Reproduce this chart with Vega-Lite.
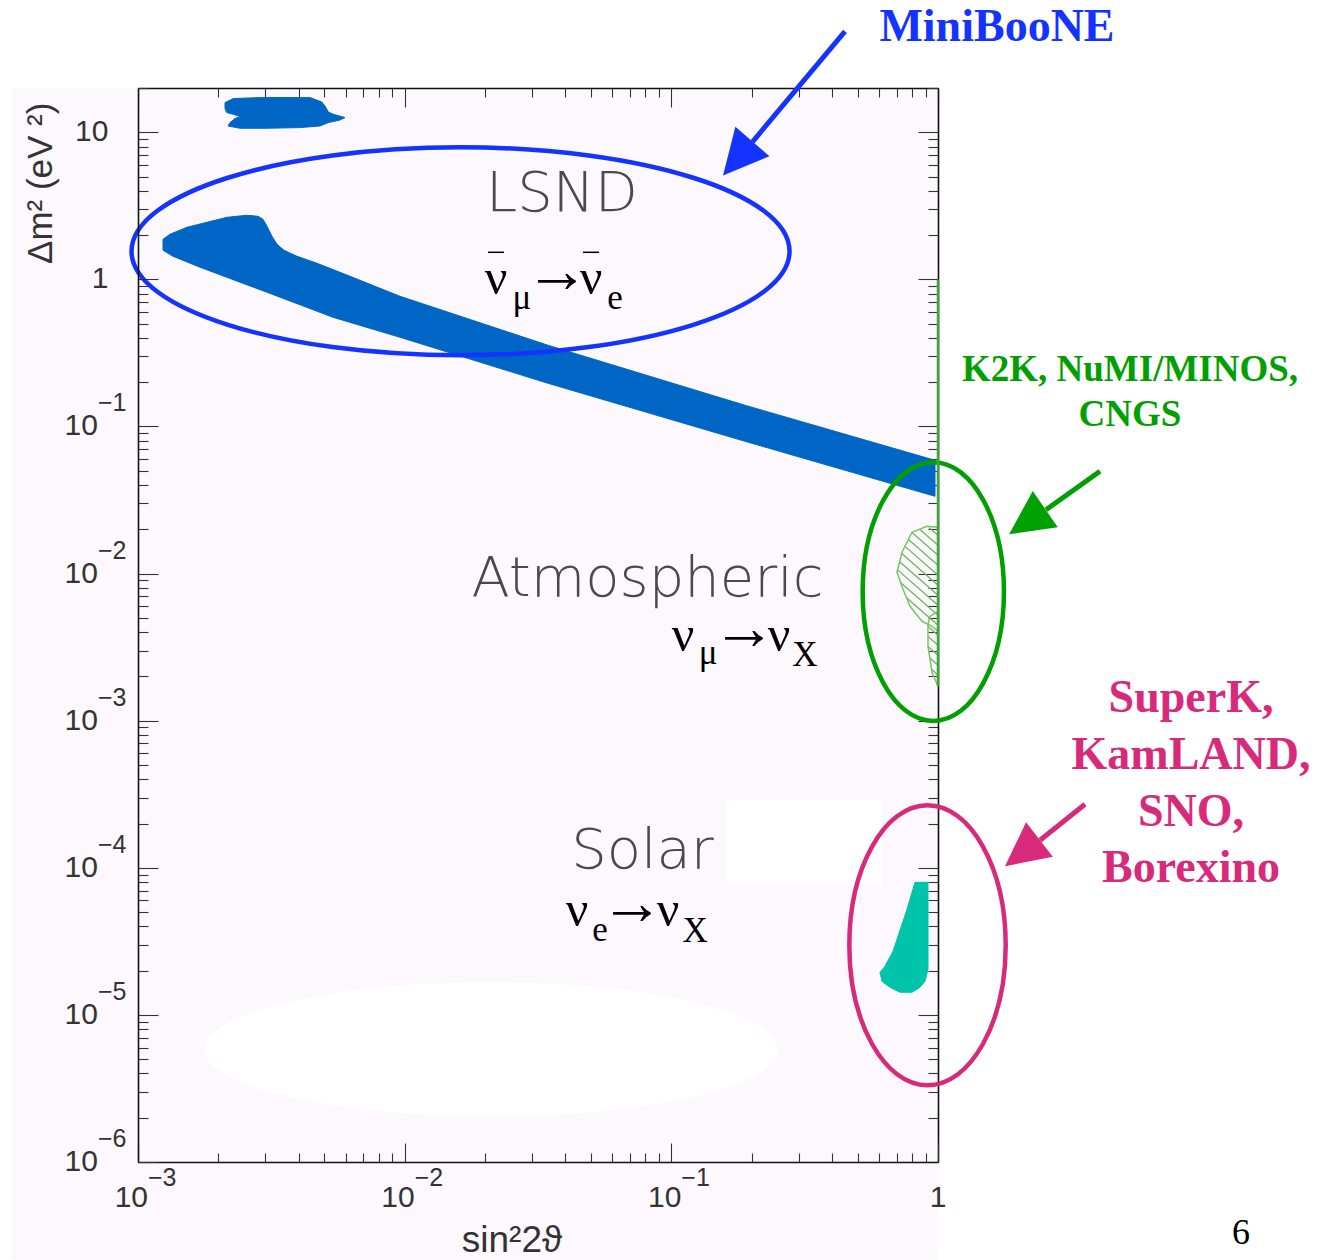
{
  "$schema": "https://vega.github.io/schema/vega-lite/v6.json",
  "width": 800,
  "height": 1074,
  "autosize": "none",
  "padding": {"left": 138, "top": 88, "right": 394, "bottom": 98},
  "background": "#ffffff",
  "config": {"view": {"fill": "#fdf8fd", "stroke": null}},
  "datasets": {
    "margins": [
      {"x": 3.369e-4, "x2": 0.001, "y": 2.181e-7, "y2": 20},
      {"x": 0.001, "x2": 1, "y": 2.181e-7, "y2": 1e-6}
    ],
    "whiteRect": [{"x": 0.1617, "x2": 0.6166, "y": 7.724e-5, "y2": 2.922e-4}],
    "whiteBlob": [{"x": 0.02107, "y": 5.836e-6}],
    "miniboone": [
      {"x": 2.120e-3, "y": 15.92}, {"x": 2.277e-3, "y": 16.95}, {"x": 2.867e-3, "y": 17.21},
      {"x": 4.416e-3, "y": 17.21}, {"x": 4.885e-3, "y": 16.07}, {"x": 5.026e-3, "y": 15.09},
      {"x": 5.172e-3, "y": 13.74}, {"x": 5.400e-3, "y": 13.25}, {"x": 5.974e-3, "y": 12.59},
      {"x": 5.721e-3, "y": 12.12}, {"x": 5.172e-3, "y": 11.64}, {"x": 4.814e-3, "y": 11.04},
      {"x": 4.050e-3, "y": 10.76}, {"x": 3.038e-3, "y": 10.65}, {"x": 2.413e-3, "y": 10.65},
      {"x": 2.175e-3, "y": 11.04}, {"x": 2.213e-3, "y": 11.64}, {"x": 2.311e-3, "y": 12.39},
      {"x": 2.413e-3, "y": 12.79}, {"x": 2.277e-3, "y": 13.25}, {"x": 2.151e-3, "y": 13.61},
      {"x": 2.120e-3, "y": 14.49}
    ],
    "lsnd": [
      {"x": 1.241e-3, "y": 1.873}, {"x": 1.318e-3, "y": 2.026}, {"x": 1.527e-3, "y": 2.260},
      {"x": 1.814e-3, "y": 2.444}, {"x": 2.157e-3, "y": 2.643}, {"x": 2.563e-3, "y": 2.728},
      {"x": 2.818e-3, "y": 2.685}, {"x": 2.943e-3, "y": 2.562}, {"x": 3.046e-3, "y": 2.296},
      {"x": 3.181e-3, "y": 1.963}, {"x": 3.321e-3, "y": 1.732}, {"x": 3.528e-3, "y": 1.577},
      {"x": 3.947e-3, "y": 1.436}, {"x": 4.691e-3, "y": 1.287}, {"x": 6.237e-3, "y": 1.050},
      {"x": 9.605e-3, "y": 0.7676}, {"x": 0.03448, "y": 0.3565}, {"x": 0.1889, "y": 0.1394},
      {"x": 0.9744, "y": 0.05891}, {"x": 0.9744, "y": 0.03353}, {"x": 0.1889, "y": 0.07932},
      {"x": 0.03448, "y": 0.1966}, {"x": 9.605e-3, "y": 0.4040}, {"x": 5.386e-3, "y": 0.5525},
      {"x": 3.046e-3, "y": 0.8172}, {"x": 1.708e-3, "y": 1.209}, {"x": 1.353e-3, "y": 1.436},
      {"x": 1.241e-3, "y": 1.577}
    ],
    "solar": [
      {"x": 0.8199, "y": 7.969e-5}, {"x": 0.9173, "y": 7.969e-5}, {"x": 0.9173, "y": 2.042e-5},
      {"x": 0.8938, "y": 1.692e-5}, {"x": 0.8560, "y": 1.541e-5}, {"x": 0.7989, "y": 1.425e-5},
      {"x": 0.7203, "y": 1.425e-5}, {"x": 0.6607, "y": 1.541e-5}, {"x": 0.6166, "y": 1.692e-5},
      {"x": 0.6061, "y": 1.948e-5}, {"x": 0.6328, "y": 2.140e-5}, {"x": 0.6780, "y": 2.706e-5},
      {"x": 0.7079, "y": 3.422e-5}, {"x": 0.7652, "y": 5.223e-5}
    ],
    "atmMain": [
      {"x": 0.9094, "y": 0.02097}, {"x": 1.0, "y": 0.02064}, {"x": 1.0, "y": 4.053e-3},
      {"x": 0.9495, "y": 4.383e-3}, {"x": 0.8710, "y": 4.740e-3}, {"x": 0.7853, "y": 5.994e-3},
      {"x": 0.7392, "y": 7.821e-3}, {"x": 0.7019, "y": 0.01021}, {"x": 0.7328, "y": 0.01396},
      {"x": 0.7989, "y": 0.01909}
    ],
    "atmLobe": [
      {"x": 0.9333, "y": 5.125e-3}, {"x": 1.0, "y": 5.543e-3}, {"x": 1.0, "y": 1.713e-3},
      {"x": 0.9495, "y": 2.133e-3}, {"x": 0.9173, "y": 3.205e-3}, {"x": 0.9173, "y": 4.522e-3}
    ],
    "hatch": [
      {"x": 0.9252, "y": 0.02061, "x2": 1.0, "y2": 0.01821},
      {"x": 0.8531, "y": 0.02004, "x2": 1.0, "y2": 0.01557},
      {"x": 0.7982, "y": 0.01903, "x2": 1.0, "y2": 0.01332},
      {"x": 0.7745, "y": 0.01708, "x2": 1.0, "y2": 0.01139},
      {"x": 0.7521, "y": 0.01531, "x2": 1.0, "y2": 9.737e-3},
      {"x": 0.7309, "y": 0.01370, "x2": 1.0, "y2": 8.327e-3},
      {"x": 0.7178, "y": 0.01205, "x2": 1.0, "y2": 7.120e-3},
      {"x": 0.7055, "y": 0.01060, "x2": 1.0, "y2": 6.088e-3},
      {"x": 0.7253, "y": 8.672e-3, "x2": 1.0, "y2": 5.206e-3},
      {"x": 0.7619, "y": 6.858e-3, "x2": 1.0, "y2": 4.452e-3},
      {"x": 0.9173, "y": 4.362e-3, "x2": 1.0, "y2": 3.807e-3},
      {"x": 0.9173, "y": 3.730e-3, "x2": 1.0, "y2": 3.255e-3},
      {"x": 0.9173, "y": 3.190e-3, "x2": 1.0, "y2": 2.784e-3},
      {"x": 0.9317, "y": 2.664e-3, "x2": 1.0, "y2": 2.380e-3},
      {"x": 0.9454, "y": 2.243e-3, "x2": 1.0, "y2": 2.035e-3}
    ],
    "k2kEdge": [{"x": 1, "y": 1.713e-3, "y2": 1}],
    "lsndRing": [{"x": 0.0162, "y": 1.553}],
    "k2kRing": [{"x": 0.9603, "y": 7.545e-3}],
    "solarRing": [{"x": 0.9133, "y": 2.973e-5}],
    "blueShaft": [{"x": 0.4480, "y": 48.60, "x2": 0.2016, "y2": 8.618}],
    "greenShaft": [{"x": 4.050, "y": 0.04960, "x2": 2.541, "y2": 0.02715}],
    "pinkShaft": [{"x": 3.558, "y": 2.702e-4, "x2": 2.413, "y2": 1.538e-4}],
    "blueHead": [{"x": 0.1774, "y": 6.631}],
    "greenHead": [{"x": 2.160, "y": 0.02253}],
    "pinkHead": [{"x": 2.069, "y": 1.263e-4}],
    "regionLabels": [
      {"x": 0.03890, "y": 2.904, "t": "LSND"},
      {"x": 0.08140, "y": 7.009e-3, "t": "Atmospheric"},
      {"x": 0.07796, "y": 9.922e-5, "t": "Solar"}
    ],
    "formulaNu": [
      {"x": 0.02200, "y": 0.7920, "t": "ν"}, {"x": 0.04998, "y": 0.7920, "t": "ν"},
      {"x": 0.1106, "y": 2.963e-3, "t": "ν"}, {"x": 0.2534, "y": 2.963e-3, "t": "ν"},
      {"x": 0.04429, "y": 4.002e-5, "t": "ν"}, {"x": 0.09716, "y": 4.002e-5, "t": "ν"}
    ],
    "formulaArrow": [
      {"x": 0.03726, "y": 0.7920, "t": "→"},
      {"x": 0.1873, "y": 2.963e-3, "t": "→"},
      {"x": 0.07121, "y": 4.002e-5, "t": "→"}
    ],
    "formulaSub": [
      {"x": 0.02754, "y": 0.6262, "t": "μ"}, {"x": 0.06148, "y": 0.6262, "t": "e"},
      {"x": 0.1373, "y": 2.418e-3, "t": "μ"}, {"x": 0.3171, "y": 2.343e-3, "t": "X"},
      {"x": 0.05401, "y": 3.165e-5, "t": "e"}, {"x": 0.1227, "y": 3.116e-5, "t": "X"}
    ],
    "antiBars": [
      {"x": 0.02054, "x2": 0.02358, "y": 1.528},
      {"x": 0.04664, "x2": 0.05355, "y": 1.528}
    ],
    "minibooneText": [{"x": 1.664, "y": 41.56, "t": "MiniBooNE"}],
    "k2kText": [
      {"x": 5.248, "y": 0.2029, "t": "K2K, NuMI/MINOS,"},
      {"x": 5.248, "y": 0.1003, "t": "CNGS"}
    ],
    "solarText": [
      {"x": 8.887, "y": 1.141e-3, "t": "SuperK,"},
      {"x": 8.887, "y": 4.673e-4, "t": "KamLAND,"},
      {"x": 8.887, "y": 1.915e-4, "t": "SNO,"},
      {"x": 8.887, "y": 7.969e-5, "t": "Borexino"}
    ],
    "pageNumber": [{"x": 13.69, "y": 2.758e-7, "t": "6"}],
    "yPlain": [{"x": 7.75e-4, "y": 10, "t": "10"}, {"x": 7.75e-4, "y": 1, "t": "1"}],
    "yBase": [
      {"x": 7.079e-4, "y": 0.1, "t": "10"}, {"x": 7.079e-4, "y": 0.01, "t": "10"},
      {"x": 7.079e-4, "y": 0.001, "t": "10"}, {"x": 7.079e-4, "y": 1e-4, "t": "10"},
      {"x": 7.079e-4, "y": 1e-5, "t": "10"}, {"x": 7.079e-4, "y": 1e-6, "t": "10"}
    ],
    "yExp": [
      {"x": 7.079e-4, "y": 0.1, "t": "−1"}, {"x": 7.079e-4, "y": 0.01, "t": "−2"},
      {"x": 7.079e-4, "y": 0.001, "t": "−3"}, {"x": 7.079e-4, "y": 1e-4, "t": "−4"},
      {"x": 7.079e-4, "y": 1e-5, "t": "−5"}, {"x": 7.079e-4, "y": 1e-6, "t": "−6"}
    ],
    "xBase": [
      {"x": 0.001, "y": 4.921e-7, "t": "10"},
      {"x": 0.01, "y": 4.921e-7, "t": "10"},
      {"x": 0.1, "y": 4.921e-7, "t": "10"}
    ],
    "xExp": [
      {"x": 0.001, "y": 6.836e-7, "t": "−3"},
      {"x": 0.01, "y": 6.836e-7, "t": "−2"},
      {"x": 0.1, "y": 6.836e-7, "t": "−1"}
    ],
    "xPlain": [{"x": 1, "y": 4.921e-7, "t": "1"}],
    "xTitle": [{"x": 0.02526, "y": 2.433e-7, "t": "sin²2ϑ"}],
    "yTitle": [{"x": 4.759e-4, "y": 4.501, "t": "Δm² (eV ²)"}]
  },
  "layer": [
    {
      "encoding": {
        "x": {
          "field": "x", "type": "quantitative",
          "scale": {"type": "log", "domain": [0.001, 1], "nice": false},
          "axis": {
            "orient": "bottom", "labels": false, "title": null, "grid": false, "zindex": 1,
            "values": [0.001, 0.002, 0.003, 0.004, 0.005, 0.006, 0.007, 0.008, 0.009, 0.01, 0.02, 0.03, 0.04, 0.05, 0.06, 0.07, 0.08, 0.09, 0.1, 0.2, 0.3, 0.4, 0.5, 0.6, 0.7, 0.8, 0.9, 1],
            "domainColor": "#111111", "domainWidth": 1.6, "tickColor": "#333333", "tickWidth": 1.1,
            "tickSize": {"condition": {"test": "abs(log(datum.value)/LN10 - round(log(datum.value)/LN10)) < 0.01", "value": -19}, "value": -9}
          }
        },
        "y": {
          "field": "y", "type": "quantitative",
          "scale": {"type": "log", "domain": [1e-6, 20], "nice": false},
          "axis": {
            "orient": "left", "labels": false, "title": null, "grid": false, "zindex": 1,
            "values": [1e-6, 2e-6, 3e-6, 4e-6, 5e-6, 6e-6, 7e-6, 8e-6, 9e-6, 1e-5, 2e-5, 3e-5, 4e-5, 5e-5, 6e-5, 7e-5, 8e-5, 9e-5, 1e-4, 2e-4, 3e-4, 4e-4, 5e-4, 6e-4, 7e-4, 8e-4, 9e-4, 0.001, 0.002, 0.003, 0.004, 0.005, 0.006, 0.007, 0.008, 0.009, 0.01, 0.02, 0.03, 0.04, 0.05, 0.06, 0.07, 0.08, 0.09, 0.1, 0.2, 0.3, 0.4, 0.5, 0.6, 0.7, 0.8, 0.9, 1, 2, 3, 4, 5, 6, 7, 8, 9, 10, 20],
            "domainColor": "#111111", "domainWidth": 1.6, "tickColor": "#333333", "tickWidth": 1.1,
            "tickSize": {"condition": {"test": "abs(log(datum.value)/LN10 - round(log(datum.value)/LN10)) < 0.01", "value": -20}, "value": -10}
          }
        }
      },
      "layer": [
        {
          "data": {"name": "margins"},
          "mark": {"type": "rect", "fill": "#fdf8fd", "clip": false},
          "encoding": {"x2": {"field": "x2"}, "y2": {"field": "y2"}}
        },
        {
          "data": {"name": "whiteRect"},
          "mark": {"type": "rect", "fill": "#ffffff", "clip": false},
          "encoding": {"x2": {"field": "x2"}, "y2": {"field": "y2"}}
        },
        {
          "data": {"name": "whiteBlob"},
          "mark": {"type": "point", "shape": "M-1,0A1,0.234 0 1,1 1,0A1,0.234 0 1,1 -1,0Z", "size": 328329, "filled": true, "fill": "#ffffff", "strokeWidth": 0, "opacity": 1, "clip": false}
        },
        {
          "data": {"name": "miniboone"},
          "mark": {"type": "line", "interpolate": "linear-closed", "fill": "#0066c6", "stroke": "#0066c6", "strokeWidth": 1, "clip": false},
          "encoding": {"order": {"value": null}}
        },
        {
          "data": {"name": "lsnd"},
          "mark": {"type": "line", "interpolate": "linear-closed", "fill": "#0066c6", "stroke": "#0066c6", "strokeWidth": 1, "clip": false},
          "encoding": {"order": {"value": null}}
        },
        {
          "data": {"name": "solar"},
          "mark": {"type": "line", "interpolate": "linear-closed", "fill": "#00c4aa", "stroke": "#00c4aa", "strokeWidth": 1, "clip": false},
          "encoding": {"order": {"value": null}}
        },
        {
          "data": {"name": "hatch"},
          "mark": {"type": "rule", "color": "#66bb55", "strokeWidth": 1.3, "clip": false},
          "encoding": {"x2": {"field": "x2"}, "y2": {"field": "y2"}}
        },
        {
          "data": {"name": "atmMain"},
          "mark": {"type": "line", "interpolate": "linear-closed", "stroke": "#77c566", "strokeWidth": 1.5, "clip": false},
          "encoding": {"order": {"value": null}}
        },
        {
          "data": {"name": "atmLobe"},
          "mark": {"type": "line", "interpolate": "linear-closed", "stroke": "#77c566", "strokeWidth": 1.5, "clip": false},
          "encoding": {"order": {"value": null}}
        },
        {
          "data": {"name": "lsndRing"},
          "mark": {"type": "point", "shape": "M-1,0A1,0.316 0 1,1 1,0A1,0.316 0 1,1 -1,0Z", "size": 432964, "filled": false, "stroke": "#1433ff", "strokeWidth": 4.5, "opacity": 1, "clip": false}
        },
        {
          "data": {"name": "k2kRing"},
          "mark": {"type": "point", "shape": "M-1,0A1,1.831 0 1,1 1,0A1,1.831 0 1,1 -1,0Z", "size": 19966, "filled": false, "stroke": "#00a000", "strokeWidth": 4.5, "opacity": 1, "clip": false}
        },
        {
          "data": {"name": "solarRing"},
          "mark": {"type": "point", "shape": "M-1,0A1,1.79 0 1,1 1,0A1,1.79 0 1,1 -1,0Z", "size": 24461, "filled": false, "stroke": "#d82a7b", "strokeWidth": 4.5, "opacity": 1, "clip": false}
        },
        {
          "data": {"name": "blueShaft"},
          "mark": {"type": "rule", "color": "#1433ff", "strokeWidth": 5, "clip": false},
          "encoding": {"x2": {"field": "x2"}, "y2": {"field": "y2"}}
        },
        {
          "data": {"name": "greenShaft"},
          "mark": {"type": "rule", "color": "#00a000", "strokeWidth": 5, "clip": false},
          "encoding": {"x2": {"field": "x2"}, "y2": {"field": "y2"}}
        },
        {
          "data": {"name": "pinkShaft"},
          "mark": {"type": "rule", "color": "#d82a7b", "strokeWidth": 5, "clip": false},
          "encoding": {"x2": {"field": "x2"}, "y2": {"field": "y2"}}
        },
        {
          "data": {"name": "blueHead"},
          "mark": {"type": "point", "shape": "M0,-1L1,1L-1,1Z", "size": 2025, "angle": 220.8, "filled": true, "fill": "#1433ff", "strokeWidth": 0, "opacity": 1, "clip": false}
        },
        {
          "data": {"name": "greenHead"},
          "mark": {"type": "point", "shape": "M0,-1L1,1L-1,1Z", "size": 1936, "angle": 235.3, "filled": true, "fill": "#00a000", "strokeWidth": 0, "opacity": 1, "clip": false}
        },
        {
          "data": {"name": "pinkHead"},
          "mark": {"type": "point", "shape": "M0,-1L1,1L-1,1Z", "size": 1900, "angle": 232.2, "filled": true, "fill": "#d82a7b", "strokeWidth": 0, "opacity": 1, "clip": false}
        },
        {
          "data": {"name": "regionLabels"},
          "mark": {"type": "text", "font": "DejaVu Sans", "fontWeight": 200, "fontSize": 56, "align": "center", "baseline": "alphabetic", "fill": "#4a4a4a", "clip": false},
          "encoding": {"text": {"field": "t"}}
        },
        {
          "data": {"name": "formulaNu"},
          "mark": {"type": "text", "font": "Liberation Serif", "fontSize": 50, "align": "center", "baseline": "alphabetic", "fill": "#000000", "clip": false},
          "encoding": {"text": {"field": "t"}}
        },
        {
          "data": {"name": "formulaArrow"},
          "mark": {"type": "text", "font": "Liberation Serif", "fontSize": 64, "align": "center", "baseline": "alphabetic", "dy": -2, "fill": "#000000", "clip": false},
          "encoding": {"text": {"field": "t"}}
        },
        {
          "data": {"name": "formulaSub"},
          "mark": {"type": "text", "font": "Liberation Serif", "fontSize": 35, "align": "center", "baseline": "alphabetic", "fill": "#000000", "clip": false},
          "encoding": {"text": {"field": "t"}}
        },
        {
          "data": {"name": "antiBars"},
          "mark": {"type": "rule", "color": "#000000", "strokeWidth": 1.5, "clip": false},
          "encoding": {"x2": {"field": "x2"}}
        },
        {
          "data": {"name": "minibooneText"},
          "mark": {"type": "text", "font": "Liberation Serif", "fontWeight": "bold", "fontSize": 46, "align": "center", "baseline": "alphabetic", "fill": "#1433ff", "clip": false},
          "encoding": {"text": {"field": "t"}}
        },
        {
          "data": {"name": "k2kText"},
          "mark": {"type": "text", "font": "Liberation Serif", "fontWeight": "bold", "fontSize": 37, "align": "center", "baseline": "alphabetic", "fill": "#00a000", "clip": false},
          "encoding": {"text": {"field": "t"}}
        },
        {
          "data": {"name": "solarText"},
          "mark": {"type": "text", "font": "Liberation Serif", "fontWeight": "bold", "fontSize": 46, "align": "center", "baseline": "alphabetic", "fill": "#d82a7b", "clip": false},
          "encoding": {"text": {"field": "t"}}
        },
        {
          "data": {"name": "pageNumber"},
          "mark": {"type": "text", "font": "Liberation Serif", "fontSize": 36, "align": "center", "baseline": "alphabetic", "fill": "#000000", "clip": false},
          "encoding": {"text": {"field": "t"}}
        },
        {
          "data": {"name": "yPlain"},
          "mark": {"type": "text", "font": "Liberation Sans", "fontSize": 30, "align": "right", "baseline": "middle", "fill": "#333333", "clip": false},
          "encoding": {"text": {"field": "t"}}
        },
        {
          "data": {"name": "yBase"},
          "mark": {"type": "text", "font": "Liberation Sans", "fontSize": 30, "align": "right", "baseline": "middle", "fill": "#333333", "clip": false},
          "encoding": {"text": {"field": "t"}}
        },
        {
          "data": {"name": "yExp"},
          "mark": {"type": "text", "font": "Liberation Sans", "fontSize": 25, "align": "left", "baseline": "alphabetic", "dy": -15, "fill": "#333333", "clip": false},
          "encoding": {"text": {"field": "t"}}
        },
        {
          "data": {"name": "xBase"},
          "mark": {"type": "text", "font": "Liberation Sans", "fontSize": 30, "align": "right", "baseline": "alphabetic", "dx": 10, "fill": "#333333", "clip": false},
          "encoding": {"text": {"field": "t"}}
        },
        {
          "data": {"name": "xExp"},
          "mark": {"type": "text", "font": "Liberation Sans", "fontSize": 25, "align": "left", "baseline": "alphabetic", "dx": 10, "fill": "#333333", "clip": false},
          "encoding": {"text": {"field": "t"}}
        },
        {
          "data": {"name": "xPlain"},
          "mark": {"type": "text", "font": "Liberation Sans", "fontSize": 30, "align": "center", "baseline": "alphabetic", "fill": "#333333", "clip": false},
          "encoding": {"text": {"field": "t"}}
        },
        {
          "data": {"name": "xTitle"},
          "mark": {"type": "text", "font": "Liberation Sans", "fontSize": 37, "align": "center", "baseline": "alphabetic", "fill": "#333333", "clip": false},
          "encoding": {"text": {"field": "t"}}
        },
        {
          "data": {"name": "yTitle"},
          "mark": {"type": "text", "font": "Liberation Sans", "fontSize": 35, "angle": 270, "align": "center", "baseline": "alphabetic", "fill": "#333333", "clip": false},
          "encoding": {"text": {"field": "t"}}
        }
      ]
    },
    {
      "data": {"name": "k2kEdge"},
      "mark": {"type": "rule", "color": "#3aa83a", "strokeWidth": 2.5, "clip": false},
      "encoding": {
        "x": {
          "field": "x", "type": "quantitative",
          "scale": {"type": "log", "domain": [0.001, 1], "nice": false},
          "axis": {
            "orient": "top", "labels": false, "title": null, "grid": false, "zindex": 0,
            "values": [0.001, 0.002, 0.003, 0.004, 0.005, 0.006, 0.007, 0.008, 0.009, 0.01, 0.02, 0.03, 0.04, 0.05, 0.06, 0.07, 0.08, 0.09, 0.1, 0.2, 0.3, 0.4, 0.5, 0.6, 0.7, 0.8, 0.9, 1],
            "domainColor": "#111111", "domainWidth": 1.6, "tickColor": "#333333", "tickWidth": 1.1,
            "tickSize": {"condition": {"test": "abs(log(datum.value)/LN10 - round(log(datum.value)/LN10)) < 0.01", "value": -19}, "value": -9}
          }
        },
        "y": {
          "field": "y", "type": "quantitative",
          "scale": {"type": "log", "domain": [1e-6, 20], "nice": false},
          "axis": {
            "orient": "right", "labels": false, "title": null, "grid": false, "zindex": 0,
            "values": [1e-6, 2e-6, 3e-6, 4e-6, 5e-6, 6e-6, 7e-6, 8e-6, 9e-6, 1e-5, 2e-5, 3e-5, 4e-5, 5e-5, 6e-5, 7e-5, 8e-5, 9e-5, 1e-4, 2e-4, 3e-4, 4e-4, 5e-4, 6e-4, 7e-4, 8e-4, 9e-4, 0.001, 0.002, 0.003, 0.004, 0.005, 0.006, 0.007, 0.008, 0.009, 0.01, 0.02, 0.03, 0.04, 0.05, 0.06, 0.07, 0.08, 0.09, 0.1, 0.2, 0.3, 0.4, 0.5, 0.6, 0.7, 0.8, 0.9, 1, 2, 3, 4, 5, 6, 7, 8, 9, 10, 20],
            "domainColor": "#111111", "domainWidth": 1.6, "tickColor": "#333333", "tickWidth": 1.1,
            "tickSize": {"condition": {"test": "abs(log(datum.value)/LN10 - round(log(datum.value)/LN10)) < 0.01", "value": -20}, "value": -10}
          }
        },
        "y2": {"field": "y2"}
      }
    }
  ],
  "resolve": {"axis": {"x": "independent", "y": "independent"}}
}
